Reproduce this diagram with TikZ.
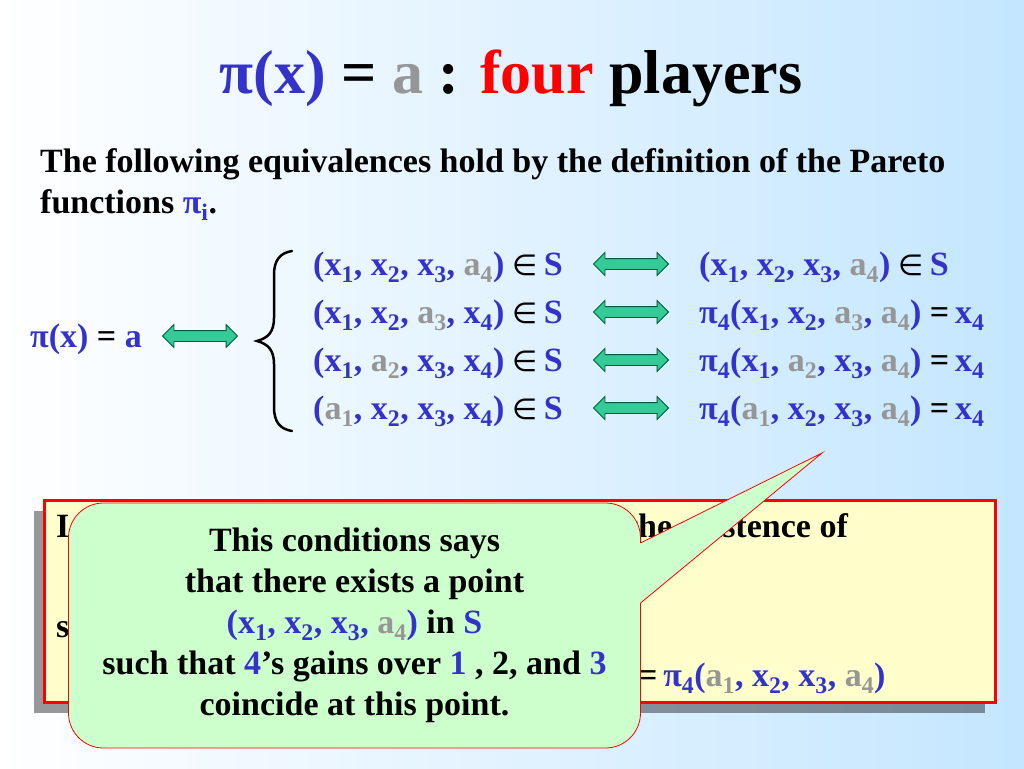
\documentclass[tikz,border=0pt]{standalone}
\usepackage{fontspec}
\setmainfont{Liberation Serif}
\newfontfamily\elemfont[Scale=0.85]{DejaVu Sans}
\usetikzlibrary{shapes.arrows,shadows}
\definecolor{eqblue}{RGB}{51,51,204}
\definecolor{eqgray}{RGB}{150,150,150}
\definecolor{bgblue}{RGB}{196,230,255}
\definecolor{arrowfill}{RGB}{51,204,153}
\definecolor{arrowline}{RGB}{0,90,60}
\definecolor{boxfill}{RGB}{255,255,204}
\definecolor{bubblefill}{RGB}{204,255,204}
\newcommand{\xsub}[1]{x\textsubscript{#1}}
\newcommand{\asub}[1]{\textcolor{eqgray}{a\textsubscript{#1}}}
\newcommand{\inS}{\textcolor{black}{\elemfont\mdseries ∈}\,S}
\newcommand{\eqx}{\textcolor{black}{=}\,x\textsubscript{4}}
\tikzset{
  bigfont/.style = {font=\bfseries\fontsize{34}{41}\selectfont},
  title/.style = {anchor=base, inner sep=0pt, font=\bfseries\fontsize{62}{74}\selectfont},
  body/.style = {bigfont, anchor=base west, inner sep=0pt},
  eqrow/.style = {body, text=eqblue},
  dblarrow/.style = {double arrow, draw=arrowline, fill=arrowfill, line width=0.8pt,
    minimum height=75pt, inner sep=5pt, double arrow head extend=6pt},
  brace/.style = {line width=2.5pt, line cap=round},
  notebox/.style = {rectangle, draw=red, fill=boxfill, line width=3pt,
    minimum width=951pt, minimum height=202pt,
    drop shadow={shadow xshift=-10pt, shadow yshift=-11pt, fill=black, opacity=0.4}},
  bubble/.style = {bigfont, rectangle, rounded corners=35pt, draw=red, fill=bubblefill,
    line width=0.8pt, minimum width=572pt, minimum height=245pt, align=center},
}

\begin{document}
\begin{tikzpicture}[x=1pt,y=-1pt]
\useasboundingbox (0,0) rectangle (1024,768);
\shade[left color=white, right color=bgblue] (0,0) rectangle (1024,768);

\node [title] (head) at (511,93) {\textcolor{eqblue}{π(x)} = \textcolor{eqgray}{a} : \textcolor{red}{four} players};
\node [body] (intro1) at (40,172) {The following equivalences hold by the definition of the Pareto};
\node [body] (intro2) at (40,213) {functions \textcolor{eqblue}{π\textsubscript{i}}.};

% left hand side
\node [eqrow] (pix) at (30,347) {π(x) \textcolor{black}{=} a};
\node [dblarrow] (arrL) at (200,336) {};
\draw [brace] (292,251) .. controls (280,253) and (274,260) .. (274,275) -- (274,318)
  .. controls (274,332) and (268,338) .. (257,341)
  .. controls (268,344) and (274,350) .. (274,364) -- (274,407)
  .. controls (274,422) and (280,429) .. (292,431);

% middle column
\node [eqrow] (row1) at (313,275) {(\xsub1, \xsub2, \xsub3, \asub4) \inS};
\node [eqrow] (row2) at (313,323) {(\xsub1, \xsub2, \asub3, \xsub4) \inS};
\node [eqrow] (row3) at (313,371) {(\xsub1, \asub2, \xsub3, \xsub4) \inS};
\node [eqrow] (row4) at (313,419) {(\asub1, \xsub2, \xsub3, \xsub4) \inS};

\node [dblarrow] (arr1) at (631,264) {};
\node [dblarrow] (arr2) at (631,312) {};
\node [dblarrow] (arr3) at (631,360) {};
\node [dblarrow] (arr4) at (631,408) {};

% right column
\node [eqrow] (res1) at (699,275) {(\xsub1, \xsub2, \xsub3, \asub4) \inS};
\node [eqrow] (res2) at (699,323) {π\textsubscript{4}(\xsub1, \xsub2, \asub3, \asub4) \eqx};
\node [eqrow] (res3) at (699,371) {π\textsubscript{4}(\xsub1, \asub2, \xsub3, \asub4) \eqx};
\node [eqrow] (res4) at (699,419) {π\textsubscript{4}(\asub1, \xsub2, \xsub3, \asub4) \eqx};

% the box behind the bubble
\node [notebox] (note) at (519.5,601) {};
\node [body] (note1a) at (56,537) {I};
\node [body, anchor=base east] (note1b) at (848,537) {the existence of};
\node [body] (note3) at (56,637) {s};
\node [eqrow] (note4) at (638,686) {\textcolor{black}{=}\,π\textsubscript{4}(\asub1, \xsub2, \xsub3, \asub4)};

% the bubble
\node [bubble] (bubble) at (354.5,625.5) {This conditions says\\
  that there exists a point\\
  \textcolor{eqblue}{(\xsub1, \xsub2, \xsub3, \asub4)} in \textcolor{eqblue}{S}\\
  such that \textcolor{eqblue}{4}’s gains over \textcolor{eqblue}{1} , 2, and \textcolor{eqblue}{3}\\
  coincide at this point.};
\coordinate (tip) at (822,453);
\fill [bubblefill] (630,543) -- (640.5,543) -- (tip) -- (640.5,603) -- (630,603) -- cycle;
\draw [red, line width=0.8pt] (640.5,543) -- (tip) -- (640.5,603);
\end{tikzpicture}
\end{document}
